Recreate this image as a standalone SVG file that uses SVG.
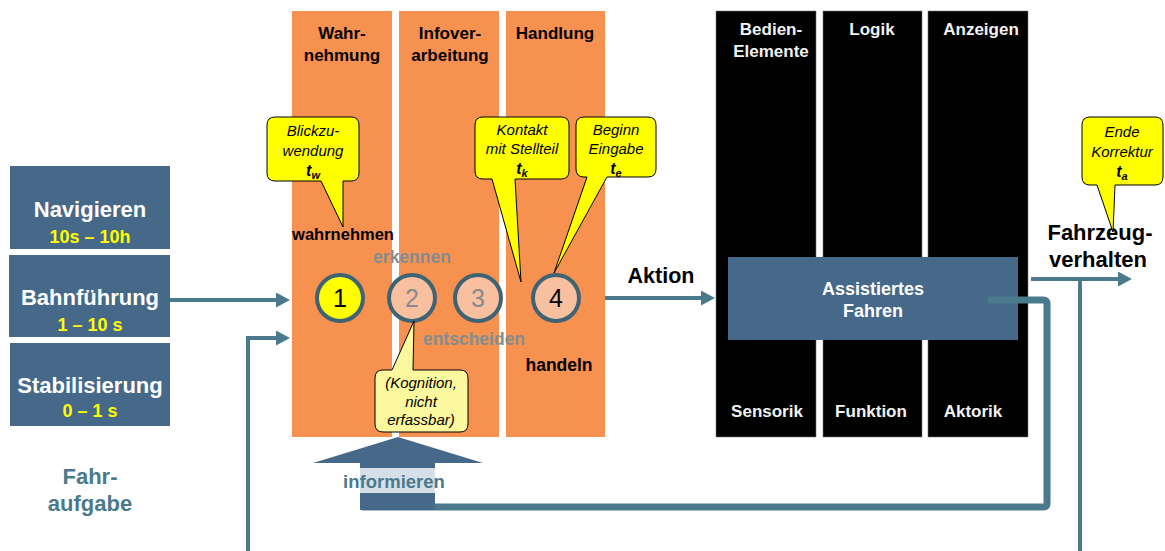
<svg xmlns="http://www.w3.org/2000/svg" width="1165" height="551" viewBox="0 0 1165 551">
  <defs>
    <marker id="arrow" markerUnits="userSpaceOnUse" markerWidth="16" markerHeight="16" refX="2" refY="7.5" orient="auto">
      <path d="M0,0 L14,7.5 L0,15 Z" fill="#4a7a8c"/>
    </marker>
    <style>
      text { font-family: "Liberation Sans", Arial, sans-serif; }
      .task { fill: #46698a; }
      .task-name { fill: #ffffff; font-weight: bold; font-size: 22px; text-anchor: middle; }
      .task-time { fill: #ffff00; font-weight: bold; font-size: 18px; text-anchor: middle; }
      .phase { fill: #f79150; }
      .phase-title { fill: #000000; font-weight: bold; font-size: 17px; text-anchor: middle; }
      .sys { fill: #000000; stroke: #777777; stroke-width: 0.6; }
      .sys-title { fill: #f2f2f2; font-weight: bold; font-size: 17px; text-anchor: middle; }
      .assist-title { fill: #ffffff; font-weight: bold; font-size: 18px; text-anchor: middle; }
      .step { stroke: #3e6374; stroke-width: 4; }
      .step-num { font-size: 25px; text-anchor: middle; }
      .verb { font-weight: bold; font-size: 17.5px; text-anchor: middle; }
      .grey { fill: #858c90; }
      .bubble { fill: #ffff00; stroke: #000000; stroke-width: 1; }
      .bubble-pale { fill: #fcf89e; stroke: #000000; stroke-width: 1; }
      .bubble-text { font-style: italic; font-size: 15px; text-anchor: middle; fill: #000000; }
      .tsym { font-style: italic; font-weight: bold; font-size: 16px; text-anchor: middle; fill: #000000; }
      .sub { font-size: 11px; }
      .flow { fill: none; stroke: #4a7a8c; stroke-width: 4; }
      .flow-wide { fill: none; stroke: #4a7a8c; stroke-width: 7; }
      .big { font-weight: bold; font-size: 22px; text-anchor: middle; fill: #000000; }
      .teal-label { font-weight: bold; fill: #4a7a8c; text-anchor: middle; }
    </style>
  </defs>

  <!-- driving task levels -->
  <g id="navigieren">
    <rect class="task" x="10" y="166" width="160" height="83"/>
    <text class="task-name" x="90" y="217">Navigieren</text>
    <text class="task-time" x="90" y="243">10s – 10h</text>
  </g>
  <g id="bahnfuehrung">
    <rect class="task" x="9" y="255" width="161" height="82"/>
    <text class="task-name" x="90" y="305">Bahnführung</text>
    <text class="task-time" x="90" y="331">1 – 10 s</text>
  </g>
  <g id="stabilisierung">
    <rect class="task" x="10" y="343" width="160" height="83"/>
    <text class="task-name" x="90" y="393">Stabilisierung</text>
    <text class="task-time" x="90" y="417">0 – 1 s</text>
  </g>
  <g id="fahraufgabe">
    <text class="teal-label" x="90" y="484" font-size="22">Fahr-</text>
    <text class="teal-label" x="90" y="511" font-size="22">aufgabe</text>
  </g>

  <!-- driver phases -->
  <g id="wahrnehmung">
    <rect class="phase" x="292" y="11" width="100" height="426"/>
    <text class="phase-title" x="342" y="39">Wahr-</text>
    <text class="phase-title" x="342" y="61">nehmung</text>
  </g>
  <g id="infoverarbeitung">
    <rect class="phase" x="399" y="11" width="100" height="426"/>
    <text class="phase-title" x="450" y="39">Infover-</text>
    <text class="phase-title" x="450" y="61">arbeitung</text>
  </g>
  <g id="handlung">
    <rect class="phase" x="506" y="11" width="99" height="426"/>
    <text class="phase-title" x="555" y="39">Handlung</text>
  </g>

  <!-- vehicle system columns -->
  <g id="bedienelemente">
    <rect class="sys" x="716" y="11" width="100" height="426"/>
    <text class="sys-title" x="771" y="35">Bedien-</text>
    <text class="sys-title" x="771" y="57">Elemente</text>
    <text class="sys-title" x="767" y="417">Sensorik</text>
  </g>
  <g id="logik">
    <rect class="sys" x="823" y="11" width="99" height="426"/>
    <text class="sys-title" x="872" y="35">Logik</text>
    <text class="sys-title" x="871" y="417">Funktion</text>
  </g>
  <g id="anzeigen">
    <rect class="sys" x="928" y="11" width="100" height="426"/>
    <text class="sys-title" x="981" y="35">Anzeigen</text>
    <text class="sys-title" x="973" y="417">Aktorik</text>
  </g>
  <g id="assistiertes-fahren">
    <rect class="task" x="728" y="257" width="290" height="83"/>
    <text class="assist-title" x="873" y="295">Assistiertes</text>
    <text class="assist-title" x="873" y="317">Fahren</text>
  </g>

  <!-- connectors -->
  <g id="connectors">
    <line class="flow" x1="170" y1="300" x2="278" y2="300" marker-end="url(#arrow)"/>
    <polyline class="flow" points="248,551 248,338 278,338" marker-end="url(#arrow)"/>
    <line class="flow" x1="605" y1="298" x2="703" y2="298" marker-end="url(#arrow)"/>
    <line class="flow" x1="1031" y1="279" x2="1120" y2="279" marker-end="url(#arrow)"/>
    <line class="flow" x1="1080" y1="279" x2="1080" y2="551"/>
    <path class="flow-wide" d="M988,300 H1043 Q1047,300 1047,304 V503 Q1047,507 1043,507 H362"/>
  </g>

  <!-- informieren arrow -->
  <g id="informieren">
    <polygon points="398,437 483,463 435,463 435,510 360,510 360,463 313,463" fill="#46698a"/>
    <rect x="360" y="468" width="75" height="25" fill="#d6dfe8"/>
    <text class="teal-label" x="394" y="488" font-size="18.5">informieren</text>
  </g>

  <!-- process steps -->
  <g id="step-1">
    <circle class="step" cx="340" cy="298" r="23" fill="#ffff00"/>
    <text class="step-num" x="340" y="307" fill="#000000">1</text>
  </g>
  <g id="step-2">
    <circle class="step" cx="412" cy="298" r="23" fill="#f9c0a0"/>
    <text class="step-num grey" x="412" y="307">2</text>
  </g>
  <g id="step-3">
    <circle class="step" cx="478" cy="298" r="23" fill="#f9c0a0"/>
    <text class="step-num grey" x="478" y="307">3</text>
  </g>
  <g id="step-4">
    <circle class="step" cx="556" cy="298" r="23" fill="#f9c0a0"/>
    <text class="step-num" x="556" y="307" fill="#000000">4</text>
  </g>

  <!-- step verbs -->
  <g id="verbs">
    <text class="verb" x="343" y="240" style="font-size:16.5px">wahrnehmen</text>
    <text class="verb grey" x="412" y="263">erkennen</text>
    <text class="verb grey" x="474" y="345">entscheiden</text>
    <text class="verb" x="559" y="371">handeln</text>
    <text class="big" x="661" y="283" style="font-size:21.5px">Aktion</text>
    <text class="big" x="1100" y="240">Fahrzeug-</text>
    <text class="big" x="1098" y="267">verhalten</text>
  </g>

  <!-- callouts -->
  <g id="callout-blickzuwendung">
    <path class="bubble" d="M275,117 H351 Q359,117 359,125 V173 Q359,181 351,181 H343 L343,227 L321,181 H275 Q267,181 267,173 V125 Q267,117 275,117 Z"/>
    <text class="bubble-text" x="313" y="136">Blickzu-</text>
    <text class="bubble-text" x="313" y="156">wendung</text>
    <text class="tsym" x="313" y="176">t<tspan class="sub" dy="3">w</tspan></text>
  </g>
  <g id="callout-kontakt">
    <path class="bubble" d="M483,117 H561 Q569,117 569,125 V171 Q569,179 561,179 H515 L521,282 L492,179 H483 Q475,179 475,171 V125 Q475,117 483,117 Z"/>
    <text class="bubble-text" x="522" y="135">Kontakt</text>
    <text class="bubble-text" x="522" y="154">mit Stellteil</text>
    <text class="tsym" x="522" y="174">t<tspan class="sub" dy="3">k</tspan></text>
  </g>
  <g id="callout-eingabe">
    <path class="bubble" d="M584,117 H648 Q656,117 656,125 V169 Q656,177 648,177 H607 L554,273 L587,177 H584 Q576,177 576,169 V125 Q576,117 584,117 Z"/>
    <text class="bubble-text" x="616" y="135">Beginn</text>
    <text class="bubble-text" x="616" y="154">Eingabe</text>
    <text class="tsym" x="616" y="174">t<tspan class="sub" dy="3">e</tspan></text>
  </g>
  <g id="callout-korrektur">
    <path class="bubble" d="M1090,117 H1155 Q1163,117 1163,125 V177 Q1163,185 1155,185 H1115 L1113,232 L1097,185 H1090 Q1082,185 1082,177 V125 Q1082,117 1090,117 Z"/>
    <text class="bubble-text" x="1122" y="137">Ende</text>
    <text class="bubble-text" x="1122" y="157">Korrektur</text>
    <text class="tsym" x="1122" y="177">t<tspan class="sub" dy="3">a</tspan></text>
  </g>
  <g id="callout-kognition">
    <path class="bubble-pale" d="M383,370 H392 L414,321 L413,370 H460 Q468,370 468,378 V424 Q468,432 460,432 H383 Q375,432 375,424 V378 Q375,370 383,370 Z"/>
    <text class="bubble-text grey" x="421" y="388">(Kognition,</text>
    <text class="bubble-text grey" x="421" y="407">nicht</text>
    <text class="bubble-text grey" x="421" y="425">erfassbar)</text>
  </g>
</svg>
